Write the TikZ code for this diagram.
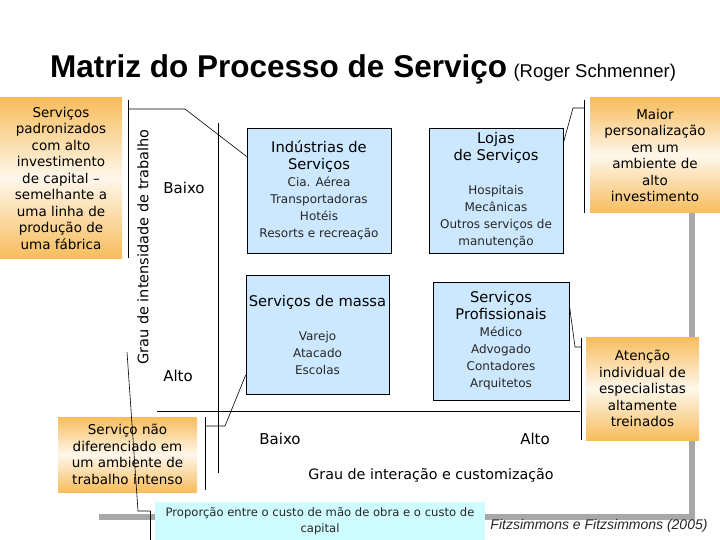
\documentclass[tikz,border=0pt]{standalone}
\usepackage{fontspec}
\setmainfont{DejaVu Sans}
\newfontfamily\arialf{Liberation Sans}
\usetikzlibrary{calc}
\definecolor{orng}{RGB}{247,189,92}
\definecolor{quadblue}{RGB}{204,232,255}
\definecolor{propcyan}{RGB}{206,252,255}
\definecolor{framegray}{RGB}{168,168,168}

\begin{document}
\begin{tikzpicture}[x=1pt,y=-1pt,
  quad/.style 2 args={draw=black,line width=0.8pt,fill=quadblue,minimum width=#1,minimum height=#2,
    inner sep=0pt,align=center,text=black!85,font=\fontsize{12}{17}\selectfont},
  note/.style 2 args={minimum width=#1,minimum height=#2,inner sep=0pt,align=center,
    top color=orng,bottom color=orng,middle color=orng!12!white,font=\fontsize{13.5}{16.5}\selectfont},
  lbl/.style={inner sep=0pt,font=\fontsize{15}{18}\selectfont},
  lead/.style={line width=0.6pt}]
  % header lines inside the quadrants
  \def\hd#1{{\fontsize{14.7}{17}\selectfont\color{black}#1}}
  \useasboundingbox (0,0) rectangle (720,540);
  % gray shadow of the frame (right and bottom)
  \draw[framegray,line width=6pt] (99,517) -- (692,517) -- (692,120);
  % title
  \node[anchor=base west,inner sep=0pt,font=\arialf\bfseries\fontsize{31.5}{36}\selectfont] (title) at (50,78) {Matriz do Processo de Serviço};
  \node[anchor=base west,inner sep=0pt,font=\arialf\fontsize{18.5}{22}\selectfont] (author) at ($(title.base east)+(6,0)$) {(Roger Schmenner)};
  % axes
  \coordinate (vtop) at (218,123); \coordinate (vbot) at (218,473);
  \coordinate (hleft) at (157,411); \coordinate (hright) at (580,411);
  \draw[line width=0.8pt] (vtop) -- (vbot);
  \draw[line width=0.8pt] (hleft) -- (hright);
  \node[lbl,rotate=90,font=\fontsize{14.5}{17}\selectfont] (grauV) at (143,247) {Grau de intensidade de trabalho};
  \node[lbl] (baixoV) at (184,188) {Baixo};
  \node[lbl] (altoV) at (178,376) {Alto};
  \node[lbl] (baixoH) at (280,439) {Baixo};
  \node[lbl] (altoH) at (535,439) {Alto};
  \node[lbl,font=\fontsize{14.3}{17}\selectfont] (grauH) at (431,475) {Grau de interação e customização};
  % quadrants
  \node[quad={144pt}{125pt}] (ind) at (319,190.5) {\hd{Indústrias de}\\\hd{Serviços}\\Cia. Aérea\\Transportadoras\\Hotéis\\Resorts e recreação};
  \node[quad={134pt}{125pt}] (loj) at (496,190.5) {\hd{Lojas}\\\hd{de Serviços}\\[17pt]Hospitais\\Mecânicas\\Outros serviços de\\manutenção};
  \node[quad={143pt}{119pt}] (mas) at (317.5,334.5) {\hd{Serviços de massa}\\[17pt]Varejo\\Atacado\\Escolas};
  \node[quad={136pt}{118pt}] (prof) at (501,341) {\hd{Serviços}\\\hd{Profissionais}\\Médico\\Advogado\\Contadores\\Arquitetos};
  % notes
  \node[note={122pt}{160pt}] (padr) at (61,178) {Serviços\\padronizados\\com alto\\investimento\\de capital --\\semelhante a\\uma linha de\\produção de\\uma fábrica};
  \node[note={130pt}{115pt}] (maior) at (655,155.5) {Maior\\personalização\\em um\\ambiente de\\alto\\investimento};
  \node[note={113pt}{103pt}] (aten) at (642.5,388.5) {Atenção\\individual de\\especialistas\\altamente\\treinados};
  \node[note={139pt}{75pt}] (naodif) at (127.5,454.5) {Serviço não\\diferenciado em\\um ambiente de\\trabalho intenso};
  \node[fill=propcyan,minimum width=330pt,minimum height=38pt,inner sep=0pt,align=center,
    text=black!85,font=\fontsize{11.6}{16}\selectfont] (prop) at (320,521) {Proporção entre o custo de mão de obra e o custo de\\capital};
  \node[inner sep=0pt,text=black!85,font=\arialf\itshape\fontsize{14}{16}\selectfont] (fitz) at (599,526) {Fitzsimmons e Fitzsimmons (2005)};
  % callouts: bracket beside each note, leader to its quadrant
  \draw[lead] (128,100) -- (128,258);
  \coordinate (padrA) at (128,109); \coordinate (padrB) at (185,109);
  \draw[lead] (padrA) -- (padrB) -- ($(ind.north west)!.23!(ind.south west)$);
  \draw[lead] (584,100) -- (584,213);
  \coordinate (maiorA) at (584,108); \coordinate (maiorB) at (573,108);
  \draw[lead] (maiorA) -- (maiorB) -- ($(loj.north east)!.12!(loj.south east)$);
  \draw[lead] (581,338) -- (581,440);
  \coordinate (atenA) at (581,347); \coordinate (atenB) at (575,347);
  \draw[lead] (atenA) -- (atenB) -- ($(prof.north east)!.2!(prof.south east)$);
  \draw[lead] (205,417) -- (205,490);
  \coordinate (naodifA) at (205,426); \coordinate (naodifB) at (225,426);
  \draw[lead] (naodifA) -- (naodifB) -- ($(mas.north west)!.84!(mas.south west)$);
  \draw[lead] (150,511) -- (150,540);
  \coordinate (propA) at (150,511); \coordinate (propB) at (138,511); \coordinate (propC) at (127,352);
  \draw[lead] (propA) -- (propB) -- (propC);
\end{tikzpicture}
\end{document}
